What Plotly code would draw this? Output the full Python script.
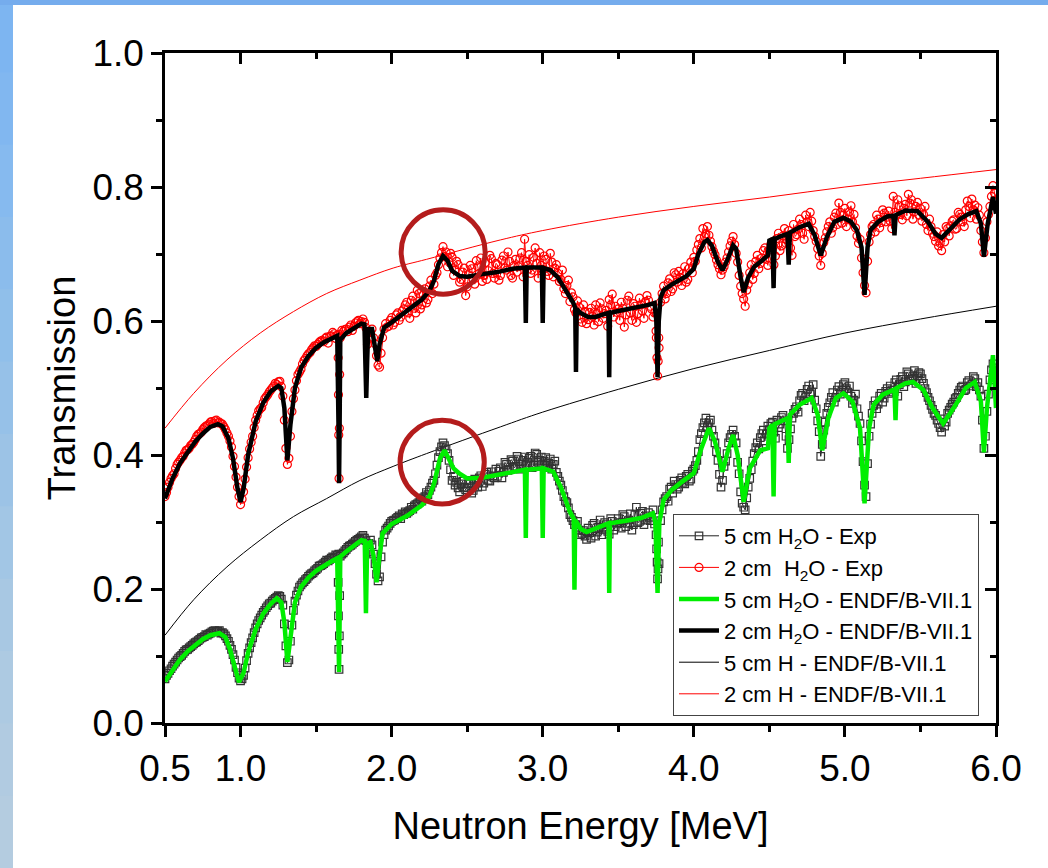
import plotly.graph_objects as go

# ---------------- data ----------------
# experimental energies (MeV): main grid 0.50,0.52,... and offset grid 0.51,0.53,...
exp_energy_a = [round(0.5 + 0.02 * k, 2) for k in range(276)]
exp_energy_b = [round(0.51 + 0.02 * k, 2) for k in range(275)]

exp_2cm_a = [
    0.338, 0.352, 0.365, 0.372, 0.386, 0.392, 0.398, 0.407, 0.410, 0.416,
    0.423, 0.431, 0.434, 0.441, 0.444, 0.449, 0.447, 0.452, 0.449, 0.446,
    0.438, 0.428, 0.412, 0.383, 0.352, 0.326, 0.345, 0.382, 0.409, 0.428,
    0.452, 0.466, 0.471, 0.484, 0.490, 0.497, 0.503, 0.505, 0.510, 0.488,
    0.410, 0.395, 0.465, 0.497, 0.520, 0.528, 0.541, 0.548, 0.553, 0.560,
    0.562, 0.568, 0.571, 0.574, 0.567, 0.578, 0.581, 0.579, 0.575, 0.584,
    0.588, 0.591, 0.586, 0.597, 0.601, 0.599, 0.598, 0.565, 0.583, 0.575,
    0.548, 0.531, 0.575, 0.596, 0.592, 0.605, 0.598, 0.612, 0.606, 0.618,
    0.628, 0.604, 0.637, 0.612, 0.641, 0.624, 0.648, 0.632, 0.661, 0.655,
    0.672, 0.694, 0.711, 0.703, 0.688, 0.695, 0.676, 0.684, 0.662, 0.679,
    0.651, 0.683, 0.662, 0.690, 0.671, 0.659, 0.687, 0.675, 0.693, 0.664,
    0.684, 0.668, 0.697, 0.676, 0.689, 0.664, 0.692, 0.681, 0.702, 0.722,
    0.683, 0.671, 0.695, 0.686, 0.702, 0.677, 0.692, 0.668, 0.688, 0.679,
    0.671, 0.662, 0.648, 0.653, 0.629, 0.636, 0.612, 0.621, 0.598, 0.614,
    0.602, 0.619, 0.594, 0.611, 0.627, 0.604, 0.616, 0.632, 0.640, 0.622,
    0.618, 0.628, 0.591, 0.631, 0.612, 0.626, 0.598, 0.634, 0.615, 0.629,
    0.631, 0.618, 0.612, 0.518, 0.628, 0.652, 0.641, 0.663, 0.648, 0.669,
    0.674, 0.653, 0.681, 0.662, 0.688, 0.695, 0.706, 0.723, 0.738, 0.730,
    0.728, 0.711, 0.699, 0.684, 0.669, 0.681, 0.694, 0.712, 0.726, 0.701,
    0.668, 0.641, 0.622, 0.655, 0.684, 0.671, 0.698, 0.686, 0.705, 0.692,
    0.706, 0.718, 0.697, 0.731, 0.712, 0.738, 0.721, 0.709, 0.744, 0.729,
    0.752, 0.731, 0.758, 0.741, 0.749, 0.726, 0.708, 0.683, 0.717, 0.733,
    0.748, 0.739, 0.761, 0.776, 0.746, 0.768, 0.752, 0.772, 0.759, 0.727,
    0.722, 0.672, 0.642, 0.718, 0.741, 0.733, 0.752, 0.747, 0.761, 0.755,
    0.749, 0.786, 0.758, 0.772, 0.751, 0.774, 0.789, 0.781, 0.763, 0.777,
    0.768, 0.759, 0.744, 0.752, 0.731, 0.719, 0.712, 0.705, 0.718, 0.738,
    0.742, 0.751, 0.738, 0.759, 0.748, 0.766, 0.771, 0.782, 0.773, 0.769,
    0.735, 0.702, 0.748, 0.771, 0.802, 0.781,
]
exp_2cm_b = [
    0.344, 0.359, 0.369, 0.380, 0.389, 0.396, 0.403, 0.408, 0.414, 0.419,
    0.428, 0.432, 0.438, 0.443, 0.446, 0.450, 0.451, 0.448, 0.447, 0.442,
    0.433, 0.421, 0.398, 0.367, 0.338, 0.334, 0.364, 0.396, 0.419, 0.441,
    0.459, 0.469, 0.478, 0.487, 0.494, 0.500, 0.507, 0.509, 0.502, 0.452,
    0.386, 0.428, 0.484, 0.511, 0.524, 0.536, 0.544, 0.551, 0.557, 0.563,
    0.565, 0.570, 0.569, 0.576, 0.577, 0.583, 0.574, 0.580, 0.586, 0.587,
    0.584, 0.594, 0.592, 0.599, 0.596, 0.603, 0.590, 0.574, 0.588, 0.566,
    0.534, 0.552, 0.588, 0.591, 0.601, 0.594, 0.609, 0.601, 0.615, 0.624,
    0.612, 0.631, 0.619, 0.646, 0.618, 0.639, 0.627, 0.652, 0.641, 0.668,
    0.684, 0.702, 0.696, 0.681, 0.701, 0.668, 0.689, 0.658, 0.673, 0.638,
    0.669, 0.678, 0.655, 0.681, 0.694, 0.668, 0.662, 0.698, 0.671, 0.686,
    0.661, 0.691, 0.679, 0.703, 0.668, 0.683, 0.673, 0.694, 0.666, 0.689,
    0.699, 0.676, 0.709, 0.664, 0.683, 0.697, 0.674, 0.701, 0.666, 0.684,
    0.659, 0.676, 0.641, 0.661, 0.642, 0.617, 0.630, 0.603, 0.624, 0.596,
    0.613, 0.607, 0.624, 0.599, 0.618, 0.611, 0.592, 0.624, 0.606, 0.613,
    0.601, 0.619, 0.609, 0.637, 0.601, 0.622, 0.611, 0.624, 0.604, 0.638,
    0.622, 0.606, 0.585, 0.560, 0.641, 0.633, 0.657, 0.644, 0.672, 0.658,
    0.665, 0.671, 0.658, 0.679, 0.672, 0.689, 0.714, 0.709, 0.726, 0.741,
    0.719, 0.704, 0.691, 0.678, 0.676, 0.688, 0.703, 0.719, 0.714, 0.688,
    0.652, 0.633, 0.646, 0.672, 0.662, 0.689, 0.678, 0.694, 0.709, 0.683,
    0.714, 0.684, 0.723, 0.705, 0.727, 0.716, 0.735, 0.698, 0.726, 0.737,
    0.744, 0.722, 0.748, 0.762, 0.735, 0.719, 0.697, 0.701, 0.724, 0.741,
    0.731, 0.755, 0.744, 0.762, 0.758, 0.741, 0.763, 0.748, 0.739, 0.716,
    0.694, 0.653, 0.689, 0.729, 0.744, 0.758, 0.739, 0.766, 0.748, 0.764,
    0.738, 0.762, 0.781, 0.759, 0.768, 0.757, 0.776, 0.752, 0.771, 0.758,
    0.749, 0.771, 0.735, 0.741, 0.726, 0.733, 0.716, 0.729, 0.741, 0.727,
    0.749, 0.737, 0.762, 0.755, 0.741, 0.779, 0.754, 0.766, 0.752, 0.758,
    0.718, 0.724, 0.759, 0.786, 0.791,
]

exp_5cm_a = [
    0.066, 0.074, 0.081, 0.088, 0.094, 0.099, 0.104, 0.109, 0.112, 0.116,
    0.120, 0.123, 0.127, 0.129, 0.131, 0.134, 0.137, 0.136, 0.138, 0.135,
    0.130, 0.122, 0.110, 0.094, 0.075, 0.063, 0.071, 0.093, 0.112, 0.127,
    0.142, 0.153, 0.161, 0.168, 0.175, 0.179, 0.184, 0.188, 0.189, 0.176,
    0.115, 0.094, 0.146, 0.182, 0.197, 0.206, 0.211, 0.216, 0.221, 0.224,
    0.229, 0.234, 0.236, 0.240, 0.242, 0.246, 0.247, 0.250, 0.249, 0.254,
    0.259, 0.264, 0.267, 0.271, 0.274, 0.278, 0.276, 0.255, 0.273, 0.252,
    0.222, 0.218, 0.270, 0.288, 0.294, 0.301, 0.303, 0.307, 0.305, 0.311,
    0.313, 0.317, 0.319, 0.326, 0.329, 0.331, 0.338, 0.341, 0.352, 0.362,
    0.385, 0.405, 0.418, 0.409, 0.392, 0.362, 0.355, 0.351, 0.357, 0.352,
    0.351, 0.362, 0.347, 0.358, 0.366, 0.353, 0.371, 0.362, 0.375, 0.366,
    0.368, 0.381, 0.374, 0.386, 0.379, 0.391, 0.383, 0.394, 0.386, 0.397,
    0.389, 0.398, 0.385, 0.401, 0.392, 0.384, 0.396, 0.388, 0.379, 0.391,
    0.368, 0.355, 0.338, 0.329, 0.311, 0.302, 0.296, 0.288, 0.283, 0.279,
    0.291, 0.276, 0.298, 0.285, 0.303, 0.289, 0.296, 0.282, 0.301, 0.293,
    0.305, 0.291, 0.308, 0.298, 0.312, 0.296, 0.322, 0.301, 0.316, 0.303,
    0.314, 0.306, 0.297, 0.215, 0.302, 0.330, 0.338, 0.349, 0.343, 0.356,
    0.352, 0.366, 0.357, 0.371, 0.364, 0.379, 0.392, 0.423, 0.441, 0.455,
    0.448, 0.437, 0.418, 0.392, 0.352, 0.383, 0.402, 0.426, 0.437, 0.418,
    0.372, 0.328, 0.318, 0.352, 0.378, 0.402, 0.418, 0.426, 0.437, 0.431,
    0.438, 0.449, 0.425, 0.441, 0.456, 0.451, 0.410, 0.439, 0.462, 0.472,
    0.481, 0.492, 0.487, 0.503, 0.494, 0.482, 0.451, 0.398, 0.437, 0.462,
    0.478, 0.493, 0.486, 0.502, 0.497, 0.508, 0.494, 0.488, 0.482, 0.469,
    0.447, 0.390, 0.338, 0.428, 0.462, 0.481, 0.476, 0.492, 0.485, 0.499,
    0.503, 0.494, 0.512, 0.505, 0.517, 0.509, 0.521, 0.513, 0.526, 0.518,
    0.521, 0.507, 0.493, 0.481, 0.468, 0.459, 0.447, 0.434, 0.443, 0.462,
    0.471, 0.479, 0.486, 0.497, 0.503, 0.498, 0.511, 0.506, 0.514, 0.508,
    0.488, 0.410, 0.465, 0.512, 0.536, 0.530,
]
exp_5cm_b = [
    0.071, 0.078, 0.085, 0.091, 0.097, 0.101, 0.107, 0.110, 0.114, 0.118,
    0.121, 0.125, 0.128, 0.132, 0.133, 0.136, 0.138, 0.137, 0.134, 0.133,
    0.126, 0.116, 0.102, 0.083, 0.067, 0.066, 0.082, 0.104, 0.120, 0.135,
    0.148, 0.157, 0.165, 0.172, 0.178, 0.182, 0.186, 0.190, 0.185, 0.148,
    0.090, 0.122, 0.168, 0.191, 0.203, 0.209, 0.214, 0.219, 0.223, 0.227,
    0.231, 0.235, 0.238, 0.243, 0.244, 0.248, 0.251, 0.252, 0.252, 0.257,
    0.262, 0.265, 0.269, 0.273, 0.276, 0.280, 0.272, 0.268, 0.266, 0.238,
    0.212, 0.248, 0.281, 0.291, 0.298, 0.302, 0.305, 0.309, 0.312, 0.315,
    0.315, 0.322, 0.324, 0.327, 0.334, 0.336, 0.344, 0.347, 0.358, 0.372,
    0.396, 0.412, 0.414, 0.402, 0.378, 0.368, 0.359, 0.345, 0.361, 0.348,
    0.357, 0.343, 0.364, 0.352, 0.369, 0.358, 0.374, 0.361, 0.369, 0.379,
    0.376, 0.366, 0.389, 0.377, 0.393, 0.381, 0.398, 0.379, 0.392, 0.384,
    0.395, 0.381, 0.403, 0.389, 0.397, 0.391, 0.381, 0.394, 0.386, 0.374,
    0.361, 0.347, 0.331, 0.321, 0.307, 0.296, 0.301, 0.281, 0.287, 0.274,
    0.284, 0.295, 0.279, 0.292, 0.281, 0.299, 0.286, 0.305, 0.288, 0.297,
    0.299, 0.311, 0.293, 0.303, 0.288, 0.311, 0.299, 0.313, 0.296, 0.309,
    0.302, 0.318, 0.281, 0.238, 0.318, 0.335, 0.331, 0.352, 0.361, 0.349,
    0.362, 0.359, 0.368, 0.361, 0.376, 0.384, 0.405, 0.432, 0.448, 0.442,
    0.452, 0.428, 0.405, 0.371, 0.362, 0.391, 0.418, 0.431, 0.428, 0.389,
    0.345, 0.322, 0.336, 0.365, 0.391, 0.411, 0.409, 0.432, 0.421, 0.443,
    0.447, 0.434, 0.452, 0.446, 0.459, 0.428, 0.423, 0.455, 0.468, 0.464,
    0.489, 0.481, 0.498, 0.491, 0.505, 0.469, 0.435, 0.416, 0.449, 0.471,
    0.486, 0.479, 0.497, 0.491, 0.505, 0.499, 0.503, 0.477, 0.491, 0.458,
    0.421, 0.355, 0.387, 0.446, 0.474, 0.469, 0.488, 0.479, 0.495, 0.492,
    0.497, 0.508, 0.488, 0.513, 0.502, 0.524, 0.511, 0.518, 0.507, 0.523,
    0.514, 0.499, 0.486, 0.474, 0.462, 0.452, 0.441, 0.454, 0.449, 0.467,
    0.476, 0.484, 0.492, 0.501, 0.496, 0.508, 0.503, 0.517, 0.502, 0.497,
    0.452, 0.428, 0.491, 0.527, 0.521,
]

# extra experimental points resolved inside the narrow dips
exp_2cm_dip_energy = [1.646, 1.648, 1.650, 1.652, 1.654, 1.656, 3.752, 3.756, 3.764, 3.768]
exp_2cm_dip_value = [0.545, 0.49, 0.43, 0.365, 0.44, 0.52, 0.575, 0.545, 0.540, 0.575]
exp_5cm_dip_energy = [1.646, 1.648, 1.650, 1.652, 1.654, 1.656, 3.754, 3.757, 3.763, 3.766]
exp_5cm_dip_value = [0.21, 0.16, 0.11, 0.08, 0.13, 0.19, 0.26, 0.24, 0.23, 0.27]

# ENDF/B-VII.1 H2O calculations
endf_2cm_energy = [
    0.50, 0.55, 0.60, 0.65, 0.70, 0.75, 0.80, 0.85, 0.88, 0.92, 0.95, 0.98, 1.00, 1.02, 1.05,
    1.10, 1.15, 1.20, 1.25, 1.27, 1.29, 1.31, 1.33, 1.36, 1.40, 1.45, 1.50, 1.55, 1.60, 1.64,
    1.648, 1.652, 1.656, 1.66, 1.70, 1.75, 1.80, 1.82, 1.826, 1.832, 1.838, 1.845, 1.87, 1.89,
    1.905, 1.92, 1.95, 2.00, 2.10, 2.20, 2.25, 2.28, 2.31, 2.34, 2.37, 2.40, 2.45, 2.50, 2.60,
    2.70, 2.80, 2.882, 2.888, 2.894, 2.994, 3.000, 3.006, 3.05, 3.10, 3.15, 3.20, 3.215, 3.22,
    3.225, 3.25, 3.30, 3.35, 3.40, 3.435, 3.44, 3.445, 3.50, 3.60, 3.70, 3.74, 3.752, 3.76,
    3.768, 3.78, 3.80, 3.85, 3.90, 3.95, 4.00, 4.03, 4.07, 4.09, 4.12, 4.16, 4.19, 4.22, 4.26,
    4.28, 4.31, 4.33, 4.36, 4.40, 4.45, 4.49, 4.50, 4.52, 4.528, 4.535, 4.57, 4.62, 4.628,
    4.636, 4.70, 4.76, 4.80, 4.84, 4.88, 4.93, 4.99, 5.04, 5.08, 5.11, 5.13, 5.15, 5.17, 5.22,
    5.28, 5.32, 5.328, 5.336, 5.40, 5.48, 5.55, 5.60, 5.64, 5.70, 5.76, 5.82, 5.87, 5.90, 5.92,
    5.945, 5.98, 6.00,
]
endf_2cm_value = [
    0.335, 0.365, 0.388, 0.405, 0.420, 0.432, 0.442, 0.446, 0.443, 0.425, 0.395, 0.350, 0.330, 0.350, 0.400,
    0.450, 0.478, 0.495, 0.503, 0.500, 0.470, 0.392, 0.445, 0.500, 0.530, 0.548, 0.560, 0.568, 0.573, 0.578,
    0.450, 0.358, 0.450, 0.572, 0.582, 0.590, 0.596, 0.595, 0.540, 0.485, 0.540, 0.588, 0.588, 0.565,
    0.540, 0.565, 0.590, 0.598, 0.615, 0.632, 0.645, 0.660, 0.685, 0.697, 0.690, 0.675, 0.667, 0.666, 0.670,
    0.673, 0.678, 0.680, 0.597, 0.680, 0.680, 0.597, 0.679, 0.676, 0.665, 0.648, 0.628, 0.620, 0.524,
    0.618, 0.612, 0.606, 0.606, 0.610, 0.612, 0.516, 0.612, 0.615, 0.619, 0.624, 0.627, 0.600, 0.516,
    0.600, 0.635, 0.646, 0.654, 0.660, 0.667, 0.678, 0.700, 0.718, 0.721, 0.712, 0.688, 0.676, 0.690, 0.713,
    0.708, 0.665, 0.643, 0.665, 0.681, 0.690, 0.698, 0.720, 0.722, 0.649, 0.722, 0.726, 0.730, 0.684,
    0.732, 0.740, 0.745, 0.728, 0.698, 0.725, 0.748, 0.754, 0.748, 0.735, 0.710, 0.639, 0.710, 0.736, 0.748,
    0.756, 0.757, 0.728, 0.758, 0.765, 0.764, 0.748, 0.730, 0.724, 0.738, 0.752, 0.760, 0.764, 0.745, 0.696,
    0.745, 0.785, 0.760,
]

endf_5cm_energy = [
    0.50, 0.55, 0.60, 0.65, 0.70, 0.75, 0.80, 0.86, 0.90, 0.93, 0.96, 0.99, 1.02, 1.05, 1.10,
    1.15, 1.20, 1.24, 1.27, 1.29, 1.31, 1.33, 1.36, 1.40, 1.45, 1.50, 1.55, 1.60, 1.64, 1.648,
    1.652, 1.656, 1.66, 1.70, 1.75, 1.80, 1.822, 1.830, 1.838, 1.86, 1.88, 1.90, 1.92, 1.94,
    2.00, 2.10, 2.20, 2.25, 2.28, 2.32, 2.35, 2.38, 2.41, 2.45, 2.50, 2.60, 2.70, 2.80, 2.882,
    2.888, 2.894, 2.994, 3.000, 3.006, 3.07, 3.12, 3.18, 3.205, 3.21, 3.215, 3.25, 3.29, 3.35,
    3.435, 3.44, 3.445, 3.55, 3.65, 3.73, 3.745, 3.76, 3.772, 3.80, 3.85, 3.91, 4.00, 4.05,
    4.10, 4.14, 4.19, 4.23, 4.26, 4.29, 4.33, 4.37, 4.44, 4.49, 4.50, 4.52, 4.528, 4.535, 4.57,
    4.62, 4.628, 4.636, 4.70, 4.78, 4.82, 4.85, 4.89, 4.94, 4.99, 5.05, 5.10, 5.13, 5.16, 5.19,
    5.25, 5.328, 5.335, 5.342, 5.40, 5.45, 5.52, 5.58, 5.65, 5.72, 5.80, 5.86, 5.90, 5.92, 5.94,
    5.98, 6.00,
]
endf_5cm_value = [
    0.062, 0.080, 0.095, 0.107, 0.117, 0.125, 0.131, 0.134, 0.128, 0.110, 0.085, 0.061, 0.075, 0.105, 0.140,
    0.163, 0.178, 0.186, 0.180, 0.150, 0.091, 0.130, 0.180, 0.203, 0.217, 0.227, 0.235, 0.241, 0.246, 0.160,
    0.076, 0.160, 0.248, 0.256, 0.265, 0.273, 0.272, 0.164, 0.268, 0.270, 0.250, 0.210, 0.250, 0.283,
    0.297, 0.309, 0.325, 0.338, 0.357, 0.395, 0.407, 0.395, 0.380, 0.372, 0.365, 0.366, 0.370, 0.375, 0.378,
    0.276, 0.378, 0.380, 0.276, 0.380, 0.375, 0.352, 0.315, 0.305, 0.199, 0.303, 0.290, 0.285, 0.290,
    0.298, 0.194, 0.298, 0.302, 0.306, 0.313, 0.300, 0.194, 0.300, 0.333, 0.347, 0.358, 0.373, 0.410,
    0.440, 0.420, 0.375, 0.410, 0.430, 0.400, 0.330, 0.380, 0.407, 0.410, 0.440, 0.445, 0.338, 0.446, 0.450,
    0.455, 0.388, 0.460, 0.475, 0.485, 0.460, 0.407, 0.455, 0.485, 0.492, 0.480, 0.440, 0.328, 0.440, 0.475,
    0.490, 0.498, 0.452, 0.500, 0.507, 0.509, 0.497, 0.470, 0.447, 0.470, 0.500, 0.509, 0.480, 0.404, 0.470,
    0.549, 0.470,
]

# pure hydrogen ENDF/B-VII.1 transmission
h_energy = [0.50, 0.69, 0.91, 1.13, 1.35, 1.57, 1.79, 2.01, 2.23, 2.72, 3.00, 3.50, 4.00, 4.50, 5.00, 5.50, 6.00]
h_5cm = [0.131, 0.184, 0.233, 0.273, 0.308, 0.335, 0.362, 0.383, 0.402, 0.442, 0.464, 0.498, 0.529, 0.556, 0.582, 0.603, 0.622]
h_2cm = [0.440, 0.492, 0.542, 0.582, 0.614, 0.641, 0.661, 0.679, 0.692, 0.721, 0.735, 0.755, 0.771, 0.785, 0.800, 0.813, 0.826]

x_tick_vals = [0.5, 1.0, 2.0, 3.0, 4.0, 5.0, 6.0]
x_tick_text = ["0.5", "1.0", "2.0", "3.0", "4.0", "5.0", "6.0"]
x_minor_vals = [1.5, 2.5, 3.5, 4.5, 5.5]
y_tick_vals = [0.0, 0.2, 0.4, 0.6, 0.8, 1.0]
y_minor_vals = [0.1, 0.3, 0.5, 0.7, 0.9]


def merged(*pairs_of_lists):
    pts = []
    for e_list, v_list in pairs_of_lists:
        pts.extend(zip(e_list, v_list))
    pts.sort()
    return [p[0] for p in pts], [p[1] for p in pts]


e2, v2 = merged((exp_energy_a, exp_2cm_a), (exp_energy_b, exp_2cm_b), (exp_2cm_dip_energy, exp_2cm_dip_value))
e5, v5 = merged((exp_energy_a, exp_5cm_a), (exp_energy_b, exp_5cm_b), (exp_5cm_dip_energy, exp_5cm_dip_value))

FONT = "Liberation Sans, Arial, sans-serif"

fig = go.Figure()

fig.add_trace(go.Scatter(x=h_energy, y=h_2cm, mode="lines", line=dict(color="#ff0000", width=1, shape="spline"),
                         name="2 cm H - ENDF/B-VII.1", legendrank=6))
fig.add_trace(go.Scatter(x=h_energy, y=h_5cm, mode="lines", line=dict(color="#000000", width=1, shape="spline"),
                         name="5 cm H - ENDF/B-VII.1", legendrank=5))
fig.add_trace(go.Scatter(x=e2, y=v2, mode="lines+markers",
                         line=dict(color="#ff0000", width=1),
                         marker=dict(symbol="circle-open", size=8, color="#ff0000", line=dict(width=1.2)),
                         name="2 cm  H<sub>2</sub>O - Exp", legendrank=2))
fig.add_trace(go.Scatter(x=e5, y=v5, mode="lines+markers",
                         line=dict(color="#222222", width=1),
                         marker=dict(symbol="square-open", size=7.5, color="#333333", line=dict(width=1.2)),
                         name="5 cm H<sub>2</sub>O - Exp", legendrank=1))
fig.add_trace(go.Scatter(x=endf_5cm_energy, y=endf_5cm_value, mode="lines",
                         line=dict(color="#00ee00", width=4.5),
                         name="5 cm H<sub>2</sub>O - ENDF/B-VII.1", legendrank=3))
fig.add_trace(go.Scatter(x=endf_2cm_energy, y=endf_2cm_value, mode="lines",
                         line=dict(color="#000000", width=4.5),
                         name="2 cm H<sub>2</sub>O - ENDF/B-VII.1", legendrank=4))
# helper trace for the mirrored (top / right) axes
fig.add_trace(go.Scatter(x=[None], y=[None], xaxis="x2", yaxis="y2", showlegend=False, hoverinfo="skip"))

W, H = 1048, 868
ML, MR, MT, MB = 165, 52, 53, 145
PW, PH = W - ML - MR, H - MT - MB


def px_x(p):
    return (p - ML) / PW


def px_y(p):
    return (H - MB - p) / PH


shapes = []
# blue frame (left and top strips) with a vertical gradient approximated by bands
band_cols = ["#7db5f1", "#81b7f0", "#86baef", "#8bbcec", "#90bfea", "#96c1e8", "#9cc3e6", "#a2c6e5",
             "#a8c8e3", "#adcae2", "#b1cbe1", "#b4cce0"]
nb = len(band_cols)
for i, c in enumerate(band_cols):
    y_top = i * H / nb
    y_bot = (i + 1) * H / nb + 1
    shapes.append(dict(type="rect", xref="paper", yref="paper", x0=px_x(0), x1=px_x(13),
                       y0=px_y(y_bot), y1=px_y(y_top), fillcolor=c, line=dict(width=0), layer="below"))
shapes.append(dict(type="rect", xref="paper", yref="paper", x0=px_x(0), x1=px_x(W),
                   y0=px_y(5), y1=px_y(0), fillcolor="#75aced", line=dict(width=0), layer="below"))
# highlight circles
for (cx0, cx1, cy0, cy1) in [(2.063, 2.619, 0.640, 0.766), (2.056, 2.613, 0.327, 0.452)]:
    shapes.append(dict(type="circle", xref="x", yref="y", x0=cx0, x1=cx1, y0=cy0, y1=cy1,
                       line=dict(color="#b41c1c", width=5), layer="above"))

axis_common = dict(showline=True, linecolor="black", linewidth=2.5, showgrid=False, zeroline=False,
                   tickcolor="black", tickwidth=2.5, ticklen=11)
minor_out = dict(ticks="outside", ticklen=6, tickwidth=2.5, tickcolor="black")
minor_in = dict(ticks="inside", ticklen=6, tickwidth=2.5, tickcolor="black")

fig.update_layout(
    width=W, height=H,
    margin=dict(l=ML, r=MR, t=MT, b=MB),
    paper_bgcolor="white", plot_bgcolor="white",
    font=dict(family=FONT, color="black"),
    showlegend=True,
    shapes=shapes,
    xaxis=dict(range=[0.5, 6.0], tickvals=x_tick_vals, ticktext=x_tick_text, ticks="outside",
               tickfont=dict(size=37), title=dict(text="Neutron Energy [MeV]", font=dict(size=38), standoff=25),
               minor=dict(tickvals=x_minor_vals, **minor_out), **axis_common),
    yaxis=dict(range=[0.0, 1.0], tickvals=y_tick_vals, tickformat=".1f", ticks="outside",
               tickfont=dict(size=37), title=dict(text="Transmission", font=dict(size=38), standoff=6),
               minor=dict(tickvals=y_minor_vals, **minor_out), **axis_common),
    xaxis2=dict(overlaying="x", side="top", anchor="y", range=[0.5, 6.0], tickvals=x_tick_vals,
                showticklabels=False, ticks="inside", minor=dict(tickvals=x_minor_vals, **minor_in), **axis_common),
    yaxis2=dict(overlaying="y", side="right", anchor="x", range=[0.0, 1.0], tickvals=y_tick_vals,
                showticklabels=False, ticks="inside", minor=dict(tickvals=y_minor_vals, **minor_in), **axis_common),
    legend=dict(x=px_x(673), y=px_y(514), xanchor="left", yanchor="top", bgcolor="white",
                bordercolor="#444444", borderwidth=1, font=dict(size=22, family=FONT),
                tracegroupgap=0, itemwidth=40),
)

fig.write_html("out.html", config={"displayModeBar": False},
               post_script="document.body.style.margin='0';document.body.style.overflow='hidden';")
